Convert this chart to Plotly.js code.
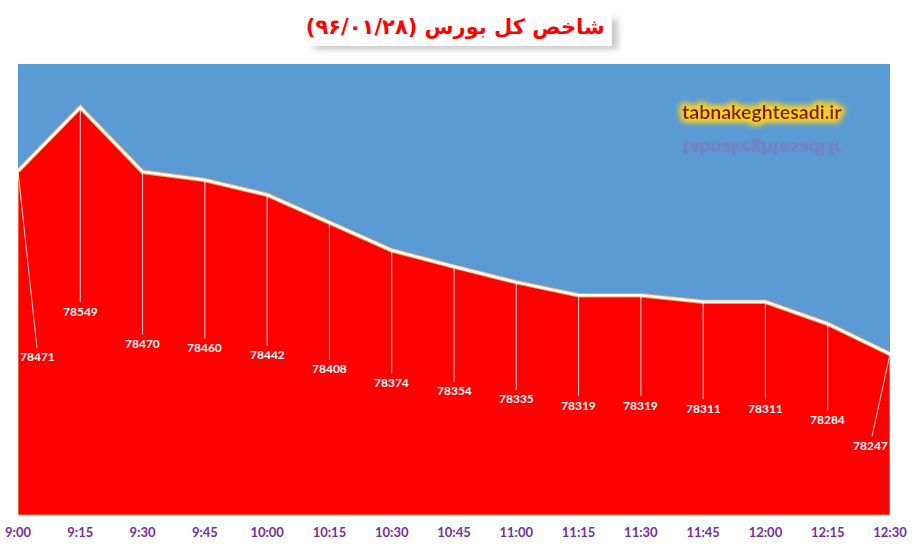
<!DOCTYPE html>
<html>
<head>
<meta charset="utf-8">
<script src="https://cdn.plot.ly/plotly-3.0.1.min.js"></script>
<style>
html, body { margin: 0; padding: 0; background: #fff; }
#chart { width: 916px; height: 549px; }
</style>
</head>
<body>
<svg width="0" height="0" style="position:absolute">
  <defs>
    <filter id="glow" x="-20%" y="-60%" width="140%" height="220%">
      <feMorphology in="SourceAlpha" operator="dilate" radius="1.5" result="thick"/>
      <feGaussianBlur in="thick" stdDeviation="3" result="blur"/>
      <feFlood flood-color="#FFD21F" flood-opacity="1"/>
      <feComposite in2="blur" operator="in" result="halo"/>
      <feMerge>
        <feMergeNode in="halo"/>
        <feMergeNode in="halo"/>
        <feMergeNode in="SourceGraphic"/>
      </feMerge>
    </filter>
    <filter id="soft">
      <feGaussianBlur stdDeviation="0.8"/>
    </filter>
    <filter id="shadow" x="-10%" y="-50%" width="120%" height="200%">
      <feGaussianBlur stdDeviation="3"/>
    </filter>
  </defs>
</svg>
<div id="chart"></div>
<script>
// time of day (categories) and the index value at each step
var times = ['9:00', '9:15', '9:30', '9:45', '10:00', '10:15', '10:30', '10:45',
             '11:00', '11:15', '11:30', '11:45', '12:00', '12:15', '12:30'];
var indexValues = [78471, 78549, 78470, 78460, 78442, 78408, 78374, 78354,
                   78335, 78319, 78319, 78311, 78311, 78284, 78247];

var yMin = 78050, yMax = 78602;

var area = {
    x: times,
    y: indexValues,
    type: 'scatter',
    mode: 'lines',
    fill: 'tozeroy',
    fillcolor: '#FF0000',
    line: { color: '#F4A15A', width: 4.5 },
    hoverinfo: 'skip'
};
var topLine = {
    x: times,
    y: indexValues,
    type: 'scatter',
    mode: 'lines',
    line: { color: '#FFFFFF', width: 2.6 },
    hoverinfo: 'skip'
};

// data labels sit half way between the point and the bottom of the plot
var annotations = [];
for (var i = 0; i < indexValues.length; i++) {
    var dx = 0, dy = 0;
    if (i == 0) { dx = 0.32; dy = -17; }
    if (i == indexValues.length - 1) { dx = -0.32; dy = -13; }
    annotations.push({
        x: i,
        y: indexValues[i],
        xref: 'x', yref: 'y',
        axref: 'x', ayref: 'y',
        ax: i + dx,
        ay: (indexValues[i] + yMin) / 2 + dy,
        text: String(indexValues[i]),
        showarrow: true,
        arrowhead: 0,
        arrowwidth: 1,
        arrowcolor: 'rgba(255,255,255,0.85)',
        standoff: 0,
        startstandoff: 0,
        font: { family: 'Lato, sans-serif', size: 12, color: '#FFFFFF', weight: 'bold' }
    });
}
annotations.push({
    xref: 'paper', yref: 'paper',
    x: 0.853, y: 0.894,
    xanchor: 'center', yanchor: 'middle',
    text: 'tabnakeghtesadi.ir',
    showarrow: false,
    font: { family: 'Lato, sans-serif', size: 19.5, color: '#7A1216', weight: 'bold' }
});
annotations.push({
    xref: 'paper', yref: 'paper',
    x: 0.853, y: 0.81,
    xanchor: 'center', yanchor: 'middle',
    text: 'tabnakeghtesadi.ir',
    showarrow: false,
    font: { family: 'Lato, sans-serif', size: 19.5, color: 'rgba(150,90,165,0.5)', weight: 'bold' }
});

var layout = {
    width: 916,
    height: 549,
    margin: { l: 18, r: 26, t: 64, b: 34 },
    paper_bgcolor: '#FFFFFF',
    plot_bgcolor: '#5B9BD5',
    showlegend: false,
    title: {
        text: 'شاخص کل بورس (۹۶/۰۱/۲۸)',
        font: { family: 'DejaVu Sans', size: 21, color: '#FF0000', weight: 'bold' },
        x: 0.497, xanchor: 'center',
        y: 0.952, yanchor: 'middle'
    },
    xaxis: {
        type: 'category',
        range: [0, 14],
        showgrid: false,
        zeroline: false,
        showline: false,
        ticks: '',
        ticklabelstandoff: 8,
        tickfont: { family: 'Lato, sans-serif', size: 13, color: '#7030A0', weight: 'bold' },
        fixedrange: true
    },
    yaxis: {
        range: [yMin, yMax],
        showgrid: false,
        zeroline: false,
        showline: false,
        showticklabels: false,
        ticks: '',
        fixedrange: true
    },
    shapes: [
        // title box with a soft shadow
        { type: 'rect', xref: 'paper', yref: 'paper', x0: 0.34, x1: 0.688, y0: 1.032, y1: 1.1,
          fillcolor: 'rgba(0,0,0,0.22)', line: { width: 0 }, layer: 'above' },
        { type: 'rect', xref: 'paper', yref: 'paper', x0: 0.326, x1: 0.681, y0: 1.04, y1: 1.124,
          fillcolor: '#FFFFFF', line: { width: 0 }, layer: 'above' },
        // orange edges of the area
        { type: 'line', xref: 'paper', yref: 'paper', x0: 0, x1: 1, y0: 0, y1: 0,
          line: { color: '#F4A15A', width: 1.2 }, layer: 'above' },
        { type: 'line', xref: 'x', yref: 'y', x0: 0, x1: 0, y0: yMin, y1: indexValues[0],
          line: { color: '#F4A15A', width: 1.2 }, layer: 'above' },
        { type: 'line', xref: 'x', yref: 'y', x0: 14, x1: 14, y0: yMin, y1: indexValues[14],
          line: { color: '#F4A15A', width: 1.2 }, layer: 'above' }
    ],
    annotations: annotations
};

Plotly.newPlot('chart', [area, topLine], layout, { displayModeBar: false, staticPlot: true })
    .then(function (gd) {
        var shadow = gd.querySelector('.layer-above .shapelayer path');
        if (shadow) shadow.setAttribute('filter', 'url(#shadow)');
        var anns = gd.querySelectorAll('.annotation');
        var n = indexValues.length;
        var mark = anns[n];
        var mirror = anns[n + 1];
        if (mark) {
            var t = mark.querySelector('text');
            if (t) t.setAttribute('filter', 'url(#glow)');
        }
        if (mirror) {
            var b = mirror.getBBox();
            var cy = b.y + b.height / 2;
            mirror.setAttribute('transform', 'translate(0,' + (2 * cy) + ') scale(1,-1)');
            var t2 = mirror.querySelector('text');
            if (t2) t2.setAttribute('filter', 'url(#soft)');
        }
    });
</script>
</body>
</html>
